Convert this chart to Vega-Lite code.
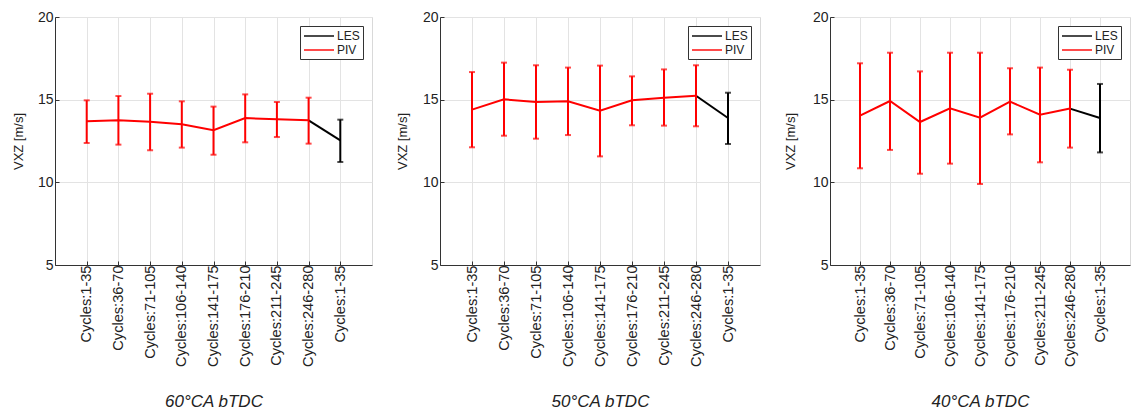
{
  "$schema": "https://vega.github.io/schema/vega-lite/v6.json",
  "padding": {"left": 11, "top": 9, "right": 0, "bottom": 0},
  "background": "white",
  "datasets": {
    "d": [
      {"panel": "60°CA bTDC", "cat": "Cycles:1-35", "src": "PIV", "mean": 13.69, "lo": 12.38, "hi": 14.96},
      {"panel": "60°CA bTDC", "cat": "Cycles:36-70", "src": "PIV", "mean": 13.75, "lo": 12.28, "hi": 15.22},
      {"panel": "60°CA bTDC", "cat": "Cycles:71-105", "src": "PIV", "mean": 13.67, "lo": 11.94, "hi": 15.36},
      {"panel": "60°CA bTDC", "cat": "Cycles:106-140", "src": "PIV", "mean": 13.51, "lo": 12.10, "hi": 14.90},
      {"panel": "60°CA bTDC", "cat": "Cycles:141-175", "src": "PIV", "mean": 13.15, "lo": 11.67, "hi": 14.58},
      {"panel": "60°CA bTDC", "cat": "Cycles:176-210", "src": "PIV", "mean": 13.89, "lo": 12.42, "hi": 15.32},
      {"panel": "60°CA bTDC", "cat": "Cycles:211-245", "src": "PIV", "mean": 13.81, "lo": 12.74, "hi": 14.86},
      {"panel": "60°CA bTDC", "cat": "Cycles:246-280", "src": "PIV", "mean": 13.75, "lo": 12.34, "hi": 15.12},
      {"panel": "60°CA bTDC", "cat": "Cycles:1-35 (LES)", "src": "LES", "mean": 12.54, "lo": 11.23, "hi": 13.79},
      {"panel": "50°CA bTDC", "cat": "Cycles:1-35", "src": "PIV", "mean": 14.40, "lo": 12.12, "hi": 16.67},
      {"panel": "50°CA bTDC", "cat": "Cycles:36-70", "src": "PIV", "mean": 15.02, "lo": 12.82, "hi": 17.24},
      {"panel": "50°CA bTDC", "cat": "Cycles:71-105", "src": "PIV", "mean": 14.86, "lo": 12.64, "hi": 17.08},
      {"panel": "50°CA bTDC", "cat": "Cycles:106-140", "src": "PIV", "mean": 14.90, "lo": 12.86, "hi": 16.94},
      {"panel": "50°CA bTDC", "cat": "Cycles:141-175", "src": "PIV", "mean": 14.33, "lo": 11.57, "hi": 17.06},
      {"panel": "50°CA bTDC", "cat": "Cycles:176-210", "src": "PIV", "mean": 14.96, "lo": 13.45, "hi": 16.41},
      {"panel": "50°CA bTDC", "cat": "Cycles:211-245", "src": "PIV", "mean": 15.12, "lo": 13.43, "hi": 16.83},
      {"panel": "50°CA bTDC", "cat": "Cycles:246-280", "src": "PIV", "mean": 15.24, "lo": 13.39, "hi": 17.08},
      {"panel": "50°CA bTDC", "cat": "Cycles:1-35 (LES)", "src": "LES", "mean": 13.89, "lo": 12.32, "hi": 15.42},
      {"panel": "40°CA bTDC", "cat": "Cycles:1-35", "src": "PIV", "mean": 14.03, "lo": 10.85, "hi": 17.20},
      {"panel": "40°CA bTDC", "cat": "Cycles:36-70", "src": "PIV", "mean": 14.92, "lo": 11.96, "hi": 17.84},
      {"panel": "40°CA bTDC", "cat": "Cycles:71-105", "src": "PIV", "mean": 13.65, "lo": 10.52, "hi": 16.71},
      {"panel": "40°CA bTDC", "cat": "Cycles:106-140", "src": "PIV", "mean": 14.48, "lo": 11.13, "hi": 17.84},
      {"panel": "40°CA bTDC", "cat": "Cycles:141-175", "src": "PIV", "mean": 13.91, "lo": 9.90, "hi": 17.84},
      {"panel": "40°CA bTDC", "cat": "Cycles:176-210", "src": "PIV", "mean": 14.88, "lo": 12.90, "hi": 16.90},
      {"panel": "40°CA bTDC", "cat": "Cycles:211-245", "src": "PIV", "mean": 14.09, "lo": 11.21, "hi": 16.94},
      {"panel": "40°CA bTDC", "cat": "Cycles:246-280", "src": "PIV", "mean": 14.46, "lo": 12.10, "hi": 16.81},
      {"panel": "40°CA bTDC", "cat": "Cycles:1-35 (LES)", "src": "LES", "mean": 13.89, "lo": 11.81, "hi": 15.95}
    ]
  },
  "config": {
    "font": "Liberation Sans",
    "view": {"stroke": "#d9d9d9", "strokeWidth": 1},
    "axis": {
      "domainColor": "#333333",
      "domainWidth": 1,
      "tickColor": "#333333",
      "labelColor": "#222222",
      "titleColor": "#222222",
      "gridColor": "#e3e3e3",
      "gridWidth": 1,
      "labelFont": "Liberation Sans",
      "titleFont": "Liberation Sans"
    },
    "legend": {
      "orient": "top-right",
      "offset": 9,
      "title": null,
      "strokeColor": "#333333",
      "fillColor": "white",
      "padding": 3,
      "cornerRadius": 0,
      "symbolType": "M-2.5,0H2.5",
      "symbolSize": 144,
      "symbolStrokeWidth": 2,
      "symbolOffset": 9,
      "labelFontSize": 12,
      "labelColor": "#222222",
      "labelOffset": 11,
      "rowPadding": 1
    }
  },
  "resolve": {"scale": {"color": "independent"}, "legend": {"color": "independent"}},
  "spacing": 22,
  "hconcat": [
    {
      "width": 317, "height": 248,
      "data": {"name": "d"},
      "transform": [{"filter": "datum.panel == '60°CA bTDC'"}],
      "encoding": {
        "x": {"field": "cat", "type": "ordinal",
          "scale": {"type": "point", "padding": 1, "domain": ["Cycles:1-35", "Cycles:36-70", "Cycles:71-105", "Cycles:106-140", "Cycles:141-175", "Cycles:176-210", "Cycles:211-245", "Cycles:246-280", "Cycles:1-35 (LES)"]},
          "axis": {"title": "60°CA bTDC", "titleFontStyle": "italic", "titleFontWeight": "normal", "titleFontSize": 17, "titlePadding": 27, "labelAngle": -90, "labelAlign": "right", "labelBaseline": "middle", "labelFontSize": 14.6, "labelPadding": 4, "tickSize": -4, "grid": true, "labelExpr": "replace(datum.label, ' (LES)', '')"}},
        "y": {"type": "quantitative",
          "scale": {"domain": [5, 20], "nice": false, "zero": false},
          "axis": {"title": "VXZ [m/s]", "titleFontSize": 13, "titleFontWeight": "normal", "titlePadding": 12, "values": [5, 10, 15, 20], "labelFontSize": 14, "tickSize": -4, "labelPadding": 6, "grid": true}}
      },
      "layer": [
        {"mark": {"type": "line", "strokeWidth": 2},
         "transform": [{"filter": "datum.src == 'PIV'"}],
         "encoding": {"y": {"field": "mean", "type": "quantitative"}, "color": {"field": "src", "type": "nominal", "scale": {"domain": ["LES", "PIV"], "range": ["#000000", "#ff0000"]}}}},
        {"mark": {"type": "line", "strokeWidth": 2},
         "transform": [{"filter": "datum.src == 'LES' || datum.cat == 'Cycles:246-280'"}],
         "encoding": {"y": {"field": "mean", "type": "quantitative"}, "color": {"datum": "LES", "type": "nominal"}}},
        {"mark": {"type": "errorbar", "ticks": {"size": 6}, "thickness": 2},
         "encoding": {"y": {"field": "lo", "type": "quantitative"}, "y2": {"field": "hi"}, "color": {"field": "src", "type": "nominal"}}}
      ]
    },
    {
      "width": 320, "height": 248,
      "data": {"name": "d"},
      "transform": [{"filter": "datum.panel == '50°CA bTDC'"}],
      "encoding": {
        "x": {"field": "cat", "type": "ordinal",
          "scale": {"type": "point", "padding": 1, "domain": ["Cycles:1-35", "Cycles:36-70", "Cycles:71-105", "Cycles:106-140", "Cycles:141-175", "Cycles:176-210", "Cycles:211-245", "Cycles:246-280", "Cycles:1-35 (LES)"]},
          "axis": {"title": "50°CA bTDC", "titleFontStyle": "italic", "titleFontWeight": "normal", "titleFontSize": 17, "titlePadding": 27, "labelAngle": -90, "labelAlign": "right", "labelBaseline": "middle", "labelFontSize": 14.6, "labelPadding": 4, "tickSize": -4, "grid": true, "labelExpr": "replace(datum.label, ' (LES)', '')"}},
        "y": {"type": "quantitative",
          "scale": {"domain": [5, 20], "nice": false, "zero": false},
          "axis": {"title": "VXZ [m/s]", "titleFontSize": 13, "titleFontWeight": "normal", "titlePadding": 13, "values": [5, 10, 15, 20], "labelFontSize": 14, "tickSize": -4, "labelPadding": 6, "grid": true}}
      },
      "layer": [
        {"mark": {"type": "line", "strokeWidth": 2},
         "transform": [{"filter": "datum.src == 'PIV'"}],
         "encoding": {"y": {"field": "mean", "type": "quantitative"}, "color": {"field": "src", "type": "nominal", "scale": {"domain": ["LES", "PIV"], "range": ["#000000", "#ff0000"]}}}},
        {"mark": {"type": "line", "strokeWidth": 2},
         "transform": [{"filter": "datum.src == 'LES' || datum.cat == 'Cycles:246-280'"}],
         "encoding": {"y": {"field": "mean", "type": "quantitative"}, "color": {"datum": "LES", "type": "nominal"}}},
        {"mark": {"type": "errorbar", "ticks": {"size": 6}, "thickness": 2},
         "encoding": {"y": {"field": "lo", "type": "quantitative"}, "y2": {"field": "hi"}, "color": {"field": "src", "type": "nominal"}}}
      ]
    },
    {
      "width": 300, "height": 248,
      "data": {"name": "d"},
      "transform": [{"filter": "datum.panel == '40°CA bTDC'"}],
      "encoding": {
        "x": {"field": "cat", "type": "ordinal",
          "scale": {"type": "point", "padding": 1, "domain": ["Cycles:1-35", "Cycles:36-70", "Cycles:71-105", "Cycles:106-140", "Cycles:141-175", "Cycles:176-210", "Cycles:211-245", "Cycles:246-280", "Cycles:1-35 (LES)"]},
          "axis": {"title": "40°CA bTDC", "titleFontStyle": "italic", "titleFontWeight": "normal", "titleFontSize": 17, "titlePadding": 27, "labelAngle": -90, "labelAlign": "right", "labelBaseline": "middle", "labelFontSize": 14.6, "labelPadding": 4, "tickSize": -4, "grid": true, "labelExpr": "replace(datum.label, ' (LES)', '')"}},
        "y": {"type": "quantitative",
          "scale": {"domain": [5, 20], "nice": false, "zero": false},
          "axis": {"title": "VXZ [m/s]", "titleFontSize": 13, "titleFontWeight": "normal", "titlePadding": 15, "values": [5, 10, 15, 20], "labelFontSize": 14, "tickSize": -4, "labelPadding": 6, "grid": true}}
      },
      "layer": [
        {"mark": {"type": "line", "strokeWidth": 2},
         "transform": [{"filter": "datum.src == 'PIV'"}],
         "encoding": {"y": {"field": "mean", "type": "quantitative"}, "color": {"field": "src", "type": "nominal", "scale": {"domain": ["LES", "PIV"], "range": ["#000000", "#ff0000"]}}}},
        {"mark": {"type": "line", "strokeWidth": 2},
         "transform": [{"filter": "datum.src == 'LES' || datum.cat == 'Cycles:246-280'"}],
         "encoding": {"y": {"field": "mean", "type": "quantitative"}, "color": {"datum": "LES", "type": "nominal"}}},
        {"mark": {"type": "errorbar", "ticks": {"size": 6}, "thickness": 2},
         "encoding": {"y": {"field": "lo", "type": "quantitative"}, "y2": {"field": "hi"}, "color": {"field": "src", "type": "nominal"}}}
      ]
    }
  ]
}
